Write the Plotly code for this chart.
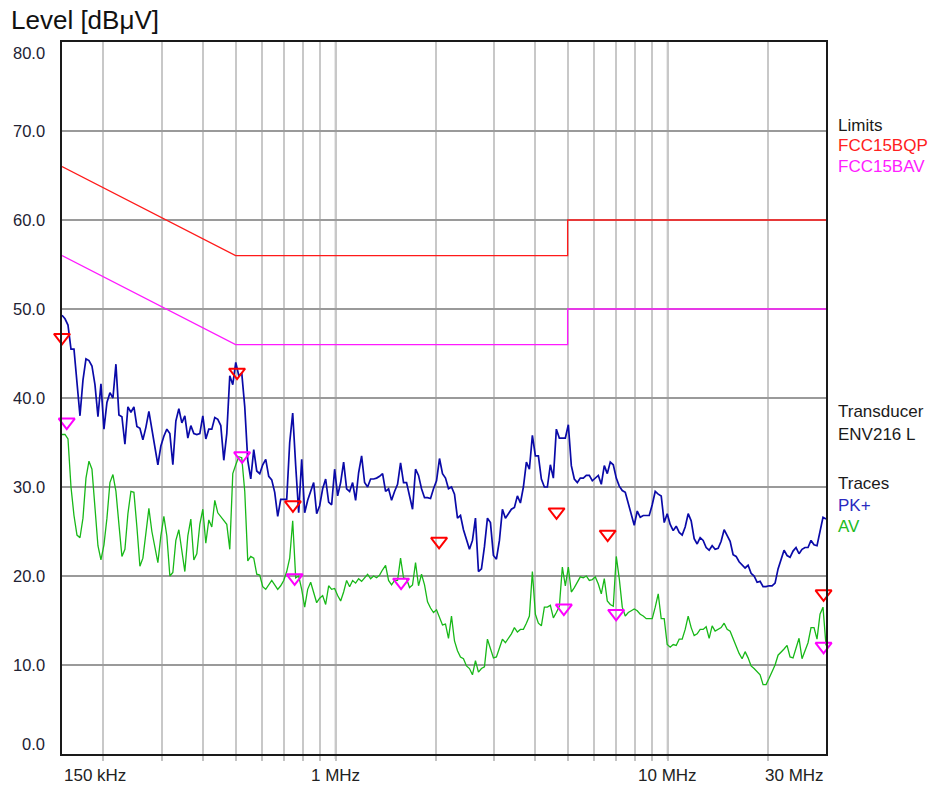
import numpy as np
import plotly.graph_objects as go

# ---------------- data ----------------
F_START, F_STOP = 0.15, 30.0  # MHz, sweep range

pk_levels = [
    49.3, 48.9, 48.2, 45.5, 45.5, 41.5, 38.0, 42.0, 44.4, 44.2, 43.6, 41.5, 37.9, 41.6, 36.5, 39.5, 40.6, 40.0, 43.8, 38.1,
    37.9, 34.8, 39.0, 38.4, 39.0, 36.8, 36.6, 35.3, 36.7, 38.5, 36.6, 34.5, 32.5, 34.6, 35.7, 36.5, 36.0, 32.5, 37.4, 38.8,
    37.2, 38.0, 35.5,
    36.9, 36.0, 35.9, 36.0, 38.0, 35.4, 36.5, 36.5, 37.8, 37.6, 36.9, 33.0, 36.0, 42.5, 41.5, 44.0, 42.5, 42.8, 39.0, 33.0,
    30.9, 34.2, 31.8, 31.5, 32.5, 33.1, 31.2, 30.8, 29.4, 26.7, 28.6, 28.6, 28.6, 35.0, 38.3, 32.4, 27.1, 33.1, 27.1, 28.5,
    29.5, 30.5,
    27.0, 27.9, 29.8, 30.9, 28.3, 28.0, 32.0, 29.0, 30.5, 32.8, 29.8, 29.5, 30.5, 28.5, 31.6, 33.5, 30.5, 30.0, 30.9, 30.9,
    31.0, 31.2, 31.5, 29.5, 29.8, 28.5, 29.5, 30.3, 32.7, 30.5, 30.5, 28.8, 27.5, 32.0, 31.3, 29.8, 28.8, 28.8, 28.7, 29.8,
    30.7, 33.2, 31.5,
    31.0, 29.8, 30.0, 29.2, 26.5, 26.8, 25.2, 24.2, 23.0, 24.0, 26.5, 20.5, 20.8, 23.3, 26.5, 26.0, 22.3, 21.9, 24.0, 27.5,
    26.5, 27.0, 27.5, 27.7, 29.0, 28.2, 30.0, 32.8, 32.0, 35.8, 33.5, 33.5, 30.9, 30.0, 30.0, 32.5, 31.0, 36.5, 35.5, 35.5,
    35.5, 37.0, 32.4,
    30.9, 30.5, 31.0, 31.0, 31.3, 31.3, 30.7, 31.0, 31.3, 30.3, 32.4, 31.5, 32.8, 32.5, 31.0, 30.1, 29.6, 29.4, 28.2, 27.1,
    25.7, 27.3, 26.6, 26.8, 26.8, 26.8, 28.0, 29.5, 29.2, 29.0, 26.0, 27.0, 25.8, 25.1, 25.6, 24.9, 24.6, 25.5, 27.0, 26.2,
    24.2, 23.6, 24.3,
    24.0, 23.2, 22.9, 23.4, 23.0, 23.1, 23.9, 25.2, 24.5, 23.9, 22.4, 22.2, 21.6, 21.2, 20.9, 21.2, 20.3, 20.0, 19.3, 19.4,
    18.8, 18.8, 18.9, 18.9, 19.2, 20.8, 22.0, 22.9, 22.3, 22.1, 22.8, 23.2, 22.5, 23.0, 23.2, 23.2, 24.0, 23.5, 23.4, 25.2,
    26.6, 26.4,
]

av_levels = [
    35.9, 35.9, 35.4, 30.0, 26.8, 24.6, 24.3, 26.5, 31.0, 32.9, 32.0, 27.5, 23.4, 21.8, 23.5, 26.5, 30.5, 31.4, 29.5, 25.8,
    22.2, 23.0, 27.0, 29.5, 29.4, 25.5, 21.1, 22.0, 25.0, 27.6, 25.0, 23.2, 21.5, 24.5, 26.7, 24.5, 20.0, 20.4, 24.0, 25.2,
    23.0, 20.5, 24.5,
    26.4, 21.8, 22.5, 25.8, 27.5, 23.7, 26.3, 25.5, 28.5, 27.1, 26.7, 26.3, 25.8, 23.0, 31.5, 32.5, 33.4, 33.3, 29.5, 21.7,
    22.2, 22.0, 20.2, 20.1, 18.8, 18.5, 19.0, 19.5, 19.0, 18.5, 18.9, 19.5, 20.5, 22.0, 26.2, 19.8, 20.0, 18.5, 16.5, 18.5,
    19.3, 18.0,
    17.0, 17.5, 17.8, 16.8, 18.9, 18.5, 18.6, 17.8, 17.2, 18.2, 19.5, 18.8, 19.5, 19.2, 19.7, 19.4, 19.8, 20.2, 19.7, 20.0,
    19.8, 20.1, 20.7, 21.2, 19.5, 19.0, 19.5, 19.5, 22.0, 19.8, 19.7, 18.7, 19.0, 21.5, 18.9, 20.2, 19.0, 17.1, 16.4, 15.9,
    16.2, 15.3, 14.5,
    14.6, 13.0, 15.5, 12.7, 11.6, 10.9, 10.7, 9.9, 9.6, 8.9, 10.5, 9.2, 9.6, 9.8, 12.9, 11.9, 10.8, 10.9, 11.8, 12.9,
    12.5, 13.0, 13.5, 14.2, 13.7, 14.0, 14.0, 14.7, 15.5, 20.5, 15.7, 14.7, 14.4, 16.5, 16.5, 16.7, 15.3, 15.9, 16.6, 21.0,
    18.9, 21.0, 18.2,
    18.7, 19.3, 19.9, 19.8, 20.0, 19.5, 19.6, 19.9, 19.1, 18.0, 19.7, 17.2, 16.8, 16.6, 22.2, 19.7, 16.5, 15.5, 15.9, 16.1,
    16.3, 16.1, 15.7, 15.5, 15.2, 15.2, 15.2, 16.5, 18.0, 15.2, 15.2, 12.3, 12.0, 12.3, 12.2, 12.9, 12.9, 14.0, 15.5, 14.2,
    13.3, 13.5, 14.0,
    14.0, 14.3, 13.0, 14.4, 13.8, 14.0, 14.2, 14.7, 14.0, 13.8, 13.0, 12.0, 11.3, 10.7, 11.5, 10.8, 9.9, 9.6, 9.2, 8.9,
    7.8, 7.8, 8.5, 9.2, 10.0, 11.1, 11.4, 11.8, 12.2, 10.9, 10.8, 11.8, 13.0, 10.7, 11.5, 12.5, 14.2, 14.2, 12.9, 15.7,
    16.5, 12.2,
]

qp_limit_f = [0.15, 0.5, 5.0, 5.0, 30.0]
qp_limit_l = [66.0, 56.0, 56.0, 60.0, 60.0]
av_limit_f = [0.15, 0.5, 5.0, 5.0, 30.0]
av_limit_l = [56.0, 46.0, 46.0, 50.0, 50.0]

qp_marker_f = [0.150, 0.505, 0.744, 2.05, 4.63, 6.60, 29.5]
qp_marker_l = [46.8, 42.9, 28.0, 23.9, 27.2, 24.7, 18.0]
av_marker_f = [0.155, 0.523, 0.753, 1.575, 4.87, 7.00, 29.5]
av_marker_l = [37.3, 33.5, 19.8, 19.3, 16.4, 15.8, 12.1]

y_tick_vals = [0, 10, 20, 30, 40, 50, 60, 70, 80]
y_tick_text = ["0.0", "10.0", "20.0", "30.0", "40.0", "50.0", "60.0", "70.0", "80.0"]
x_label_vals = [0.15, 1.0, 10.0, 30.0]
x_label_text = ["150 kHz", "1 MHz", "10 MHz", "30 MHz"]
minor_grid_f = [0.2, 0.3, 0.4, 0.5, 0.6, 0.7, 0.8, 0.9, 2, 3, 4, 5, 6, 7, 8, 9, 20]
major_grid_f = [1.0, 10.0]

# ---------------- figure ----------------
freq_mhz = np.geomspace(F_START, F_STOP, len(pk_levels))

FONT = "Liberation Sans, Arial, sans-serif"
PLOT_W, PLOT_H = 764, 712
fig = go.Figure()

fig.add_trace(go.Scatter(x=qp_limit_f, y=qp_limit_l, mode="lines",
                         line=dict(color="#ff1a1a", width=1.3), hoverinfo="skip"))
fig.add_trace(go.Scatter(x=av_limit_f, y=av_limit_l, mode="lines",
                         line=dict(color="#ff1aff", width=1.3), hoverinfo="skip"))
fig.add_trace(go.Scatter(x=freq_mhz, y=av_levels, mode="lines",
                         line=dict(color="#18b818", width=1.3)))
fig.add_trace(go.Scatter(x=freq_mhz, y=pk_levels, mode="lines",
                         line=dict(color="#0a0aa8", width=1.7)))
fig.add_trace(go.Scatter(x=qp_marker_f, y=qp_marker_l, mode="markers", cliponaxis=False,
                         marker=dict(symbol="triangle-down-open", size=14, color="#ff0000",
                                     line=dict(width=2, color="#ff0000"))))
fig.add_trace(go.Scatter(x=av_marker_f, y=av_marker_l, mode="markers", cliponaxis=False,
                         marker=dict(symbol="triangle-down-open", size=14, color="#ff00ff",
                                     line=dict(width=2, color="#ff00ff"))))

shapes = []
for f in major_grid_f:
    shapes.append(dict(type="line", xref="x", yref="paper", x0=f, x1=f, y0=-0.007, y1=1,
                       line=dict(color="#8a8a8a", width=1.5), layer="below"))

annotations = []
# title
annotations.append(dict(text="Level [dBμV]", xref="paper", yref="paper", x=-53 / PLOT_W, y=1 + 22 / PLOT_H,
                        xanchor="left", yanchor="middle", showarrow=False,
                        font=dict(family=FONT, size=26, color="#111111")))
# y tick labels
for v, t in zip(y_tick_vals, y_tick_text):
    shift = 0
    if v == 80:
        shift = -11
    elif v == 0:
        shift = 10
    annotations.append(dict(text=t, xref="paper", yref="y", x=0, y=v, xanchor="right", yanchor="middle",
                            xshift=-15, yshift=shift, showarrow=False,
                            font=dict(family=FONT, size=16.5, color="#222233")))
# x tick labels
anchors = ["left", "center", "center", "right"]
for v, t, a in zip(x_label_vals, x_label_text, anchors):
    annotations.append(dict(text=t, xref="x", yref="paper", x=np.log10(v), y=-21 / PLOT_H,
                            xanchor=a, yanchor="middle", showarrow=False,
                            font=dict(family=FONT, size=17, color="#222222")))
# right-side legend text
legend_items = [
    ("Limits", 125, "#1a1a1a"),
    ("FCC15BQP", 145.5, "#ff2020"),
    ("FCC15BAV", 166.5, "#ff20ff"),
    ("Transducer", 411.5, "#1a1a1a"),
    ("ENV216 L", 434.5, "#1a1a1a"),
    ("Traces", 483.5, "#1a1a1a"),
    ("PK+", 505, "#2a2ac0"),
    ("AV", 526, "#22bb22"),
]
for t, ypx, c in legend_items:
    annotations.append(dict(text=t, xref="paper", yref="paper", x=1 + 10 / PLOT_W, y=(754 - ypx) / PLOT_H,
                            xanchor="left", yanchor="middle", showarrow=False,
                            font=dict(family=FONT, size=17, color=c)))

fig.update_layout(
    width=931, height=789,
    margin=dict(l=62, r=105, t=42, b=35, pad=0, autoexpand=False),
    paper_bgcolor="white", plot_bgcolor="white",
    showlegend=False,
    shapes=shapes, annotations=annotations,
    xaxis=dict(type="log", range=[np.log10(F_START), np.log10(F_STOP)],
               tickvals=minor_grid_f + major_grid_f, showticklabels=False,
               ticks="outside", ticklen=5, tickcolor="#c4c4c4", tickwidth=1.5,
               showgrid=True, gridcolor="#c8c8c8", gridwidth=1.5,
               showline=True, mirror=True, linecolor="#1a1a1a", linewidth=1.6,
               zeroline=False, fixedrange=True, automargin=False),
    yaxis=dict(range=[0, 80], tickvals=y_tick_vals, showticklabels=False, ticks="",
               showgrid=True, gridcolor="#9a9a9a", gridwidth=1.5,
               showline=True, mirror=True, linecolor="#1a1a1a", linewidth=1.6,
               zeroline=False, fixedrange=True, automargin=False),
)

fig.write_html(
    "out.html",
    config={"displayModeBar": False},
    post_script="document.body.style.margin='0';document.body.style.overflow='hidden';",
)
